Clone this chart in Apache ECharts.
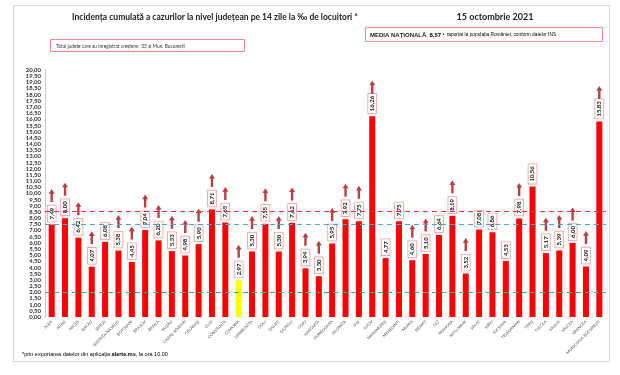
<!DOCTYPE html>
<html><head><meta charset="utf-8">
<script src="https://cdn.jsdelivr.net/npm/echarts@6/dist/echarts.min.js"></script>
<style>html,body{margin:0;padding:0;background:#fff}#c{width:620px;height:375px}</style>
</head><body><div id="c"></div>
<script>
const categories = ['ALBA','ARAD','ARGEȘ','BACĂU','BIHOR','BISTRIȚA-NĂSĂUD','BOTOȘANI','BRAȘOV','BRĂILA','BUZĂU','CARAȘ-SEVERIN','CĂLĂRAȘI','CLUJ','CONSTANȚA','COVASNA','DÂMBOVIȚA','DOLJ','GALAȚI','GIURGIU','GORJ','HARGHITA','HUNEDOARA','IALOMIȚA','IAȘI','ILFOV','MARAMUREȘ','MEHEDINȚI','MUREȘ','NEAMȚ','OLT','PRAHOVA','SATU MARE','SĂLAJ','SIBIU','SUCEAVA','TELEORMAN','TIMIȘ','TULCEA','VASLUI','VÂLCEA','VRANCEA','MUNICIPIUL BUCUREȘTI'];
const values = [7.49,8.00,6.42,4.07,6.08,5.38,4.45,7.04,6.20,5.33,4.98,5.90,8.71,7.65,2.97,5.30,7.55,5.30,7.62,3.94,3.30,5.95,7.92,7.75,16.26,4.77,7.75,4.60,5.10,6.64,8.19,3.52,7.08,6.86,4.53,7.98,10.56,5.17,5.39,6.00,4.09,15.83];
const increased = [1,1,1,1,0,1,1,1,1,1,1,1,1,1,1,1,1,1,1,1,1,1,1,1,1,0,0,1,1,0,1,1,0,0,0,1,0,1,1,1,1,1];
const nationalAverage = 8.57;
const refLevels = [8.57, 7.5, 2.0];
const yMin = 0, yMax = 20, yStep = 0.5;
const titleText = 'Incidența cumulată a cazurilor la nivel județean pe 14 zile la ‰ de locuitori *';
const dateText = '15 octombrie 2021';
const countText = 'Total județe care au înregistrat creștere:  33 și Mun. București';

const fmt = v => v.toFixed(2).replace('.', ',');
const minVal = Math.min(...values);
const refColors = ['#e8343a', '#4aa3df', '#2bb673'];
const FONT = 'Lato, "Open Sans", sans-serif';

const chart = echarts.init(document.getElementById('c'), null, {renderer: 'canvas'});
chart.setOption({
  animation: false,
  backgroundColor: '#fff',
  grid: {left: 45, right: 14, top: 70, bottom: 58, outerBoundsMode: 'none', containLabel: false},
  xAxis: {
    type: 'category', data: categories,
    axisLine: {show: false}, axisTick: {show: false},
    axisLabel: {interval: 0, rotate: 45, fontSize: 4, color: '#555', fontFamily: FONT, margin: 4}
  },
  yAxis: {
    type: 'value', min: yMin, max: yMax, interval: yStep,
    axisLine: {show: true, lineStyle: {color: '#bbb', type: 'dotted', width: 1}},
    axisTick: {show: false}, splitLine: {show: false},
    axisLabel: {fontSize: 6, color: '#333', fontWeight: 'bold', fontFamily: FONT, margin: 4, formatter: fmt}
  },
  series: [
    {
      type: 'bar', barWidth: 6,
      data: values.map(v => ({value: v, itemStyle: {color: v === minVal ? '#ffff00' : '#ff0000'}})),
      label: {
        show: true, position: 'top', rotate: 90, align: 'left', verticalAlign: 'middle', distance: 3,
        formatter: p => fmt(p.value), fontSize: 6, fontWeight: 'bold', color: '#111', fontFamily: FONT,
        backgroundColor: '#fff', borderColor: '#f39a9a', borderWidth: 0.8, padding: [1, 2, 1, 2]
      },
      markLine: {
        silent: true, symbol: 'none', label: {show: false},
        data: refLevels.map((v, i) => ({yAxis: v, lineStyle: {color: refColors[i], type: [5, 4], width: 1.2}}))
      },
      z: 2
    },
    {
      type: 'scatter',
      data: values.map((v, i) => increased[i] ? v : '-'),
      symbol: 'path://M4,0 L8,5 L5.6,5 L5.6,14 L2.4,14 L2.4,5 L0,5 Z',
      symbolSize: [6, 13], symbolOffset: [0, -29],
      itemStyle: {color: '#a3111a'}, z: 3
    }
  ],
  graphic: [
    {type: 'rect', shape: {x: 13.5, y: 5.5, width: 596, height: 356}, style: {fill: 'none', stroke: '#d6d6d6', lineWidth: 1}, z: -1},
    {type: 'text', x: 215, y: 17, style: {text: titleText, font: 'bold 8.5px ' + FONT, fill: '#222', align: 'center', verticalAlign: 'middle'}},
    {type: 'text', x: 495, y: 17, style: {text: dateText, font: 'bold 9px ' + FONT, fill: '#222', align: 'center', verticalAlign: 'middle'}},
    {type: 'rect', shape: {x: 365.5, y: 27.5, width: 237, height: 14}, style: {fill: '#fff', stroke: '#ee8c94', lineWidth: 1}},
    {type: 'text', x: 370, y: 35, style: {
      text: '{b|MEDIA NAȚIONALĂ} {r|' + fmt(nationalAverage) + '}{g| •  raportat la populația României, conform datelor INS}',
      verticalAlign: 'middle', fontFamily: FONT,
      rich: {b: {fontSize: 6, fontWeight: 'bold', fill: '#222', color: '#222'}, r: {fontSize: 6, fontWeight: 'bold', color: '#e8202a'}, g: {fontSize: 4.8, color: '#666'}}
    }},
    {type: 'rect', shape: {x: 50.5, y: 39.5, width: 194, height: 12}, style: {fill: '#fff', stroke: '#ee8c94', lineWidth: 1}},
    {type: 'text', x: 56, y: 46, style: {text: countText, font: '4.8px ' + FONT, fill: '#333', verticalAlign: 'middle'}},
    {type: 'text', x: 22, y: 354, style: {
      text: '{n|*prin exportarea datelor din aplicația }{b|alerte.ms}{n|, la ora 10.00}', verticalAlign: 'middle', fontFamily: FONT,
      rich: {n: {fontSize: 5.5, color: '#444'}, b: {fontSize: 5.5, fontWeight: 'bold', color: '#222'}}
    }}
  ]
});
</script></body></html>
